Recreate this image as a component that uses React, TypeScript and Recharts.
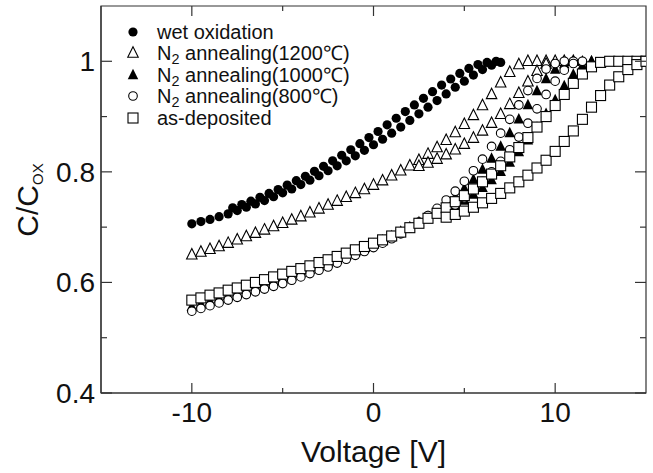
import React from 'react';
import { ScatterChart, Scatter, XAxis, YAxis, Legend, ReferenceArea, Label } from 'recharts';

// ---------- data (voltage [V], C/Cox) ----------
const wetOxFwd: [number, number][] = [
  [-10, 0.706], [-9.5, 0.71], [-9, 0.714], [-8.5, 0.719], [-8, 0.724], [-7.5, 0.73], [-7, 0.736],
  [-6.5, 0.742], [-6, 0.748], [-5.5, 0.755], [-5, 0.762], [-4.5, 0.769], [-4, 0.777], [-3.5, 0.785],
  [-3, 0.793], [-2.5, 0.802], [-2, 0.811], [-1.5, 0.82], [-1, 0.829], [-0.5, 0.839], [0, 0.849],
  [0.5, 0.859], [1, 0.87], [1.5, 0.881], [2, 0.893], [2.5, 0.905], [3, 0.917], [3.5, 0.929],
  [4, 0.941], [4.5, 0.953], [5, 0.964], [5.5, 0.975], [6, 0.985], [6.5, 0.993], [7, 0.998],
];
const wetOxRev: [number, number][] = [
  [-7.75, 0.735], [-7.25, 0.741], [-6.75, 0.747], [-6.25, 0.754], [-5.75, 0.761], [-5.25, 0.768],
  [-4.75, 0.776], [-4.25, 0.784], [-3.75, 0.792], [-3.25, 0.801], [-2.75, 0.81], [-2.25, 0.82],
  [-1.75, 0.83], [-1.25, 0.84], [-0.75, 0.851], [-0.25, 0.862], [0.25, 0.873], [0.75, 0.885],
  [1.25, 0.897], [1.75, 0.909], [2.25, 0.921], [2.75, 0.933], [3.25, 0.945], [3.75, 0.957],
  [4.25, 0.968], [4.75, 0.978], [5.25, 0.987], [5.75, 0.994], [6.25, 0.998], [6.75, 1.0],
];
const n1200Fwd: [number, number][] = [
  [-10, 0.65], [-9.5, 0.655], [-9, 0.66], [-8.5, 0.665], [-8, 0.671], [-7.5, 0.677], [-7, 0.683],
  [-6.5, 0.689], [-6, 0.695], [-5.5, 0.701], [-5, 0.707], [-4.5, 0.713], [-4, 0.719], [-3.5, 0.726],
  [-3, 0.733], [-2.5, 0.74], [-2, 0.747], [-1.5, 0.754], [-1, 0.761], [-0.5, 0.768], [0, 0.776],
  [0.5, 0.784], [1, 0.793], [1.5, 0.802], [2, 0.811], [2.5, 0.821], [3, 0.832], [3.5, 0.844],
  [4, 0.857], [4.5, 0.871], [5, 0.886], [5.5, 0.902], [6, 0.92], [6.5, 0.94], [7, 0.961],
  [7.5, 0.98], [8, 0.994], [8.5, 1.0], [9, 1.0], [9.5, 1.0], [10, 1.0], [10.5, 1.0], [11, 1.0],
];
const n1200Rev: [number, number][] = [
  [2.5, 0.81], [3, 0.816], [3.5, 0.823], [4, 0.831], [4.5, 0.84], [5, 0.85], [5.5, 0.861],
  [6, 0.874], [6.5, 0.888], [7, 0.904], [7.5, 0.922], [8, 0.942], [8.5, 0.963], [9, 0.982],
  [9.5, 0.995],
];
const n1000Fwd: [number, number][] = [
  [-10, 0.556], [-9.5, 0.561], [-9, 0.566], [-8.5, 0.571], [-8, 0.576], [-7.5, 0.581], [-7, 0.586],
  [-6.5, 0.591], [-6, 0.596], [-5.5, 0.601], [-5, 0.606], [-4.5, 0.611], [-4, 0.617], [-3.5, 0.623],
  [-3, 0.629], [-2.5, 0.635], [-2, 0.641], [-1.5, 0.648], [-1, 0.655], [-0.5, 0.662], [0, 0.669],
  [0.5, 0.676], [1, 0.684], [1.5, 0.692], [2, 0.7], [2.5, 0.709], [3, 0.719], [3.5, 0.73],
  [4, 0.742], [4.5, 0.755], [5, 0.77], [5.5, 0.786], [6, 0.804], [6.5, 0.824], [7, 0.846],
  [7.5, 0.87], [8, 0.895], [8.5, 0.921], [9, 0.946], [9.5, 0.968], [10, 0.985], [10.5, 0.995],
  [11, 1.0], [11.5, 1.0], [12, 1.0],
];
const n1000Rev: [number, number][] = [
  [4.5, 0.738], [5, 0.748], [5.5, 0.759], [6, 0.771], [6.5, 0.785], [7, 0.8], [7.5, 0.817],
  [8, 0.836], [8.5, 0.857], [9, 0.88], [9.5, 0.905], [10, 0.93], [10.5, 0.955], [11, 0.976],
  [11.5, 0.992], [12, 1.0],
];
const n800Fwd: [number, number][] = [
  [-10, 0.548], [-9.5, 0.553], [-9, 0.558], [-8.5, 0.563], [-8, 0.568], [-7.5, 0.573], [-7, 0.578],
  [-6.5, 0.583], [-6, 0.588], [-5.5, 0.593], [-5, 0.598], [-4.5, 0.604], [-4, 0.61], [-3.5, 0.616],
  [-3, 0.622], [-2.5, 0.628], [-2, 0.635], [-1.5, 0.642], [-1, 0.649], [-0.5, 0.656], [0, 0.663],
  [0.5, 0.671], [1, 0.679], [1.5, 0.688], [2, 0.698], [2.5, 0.709], [3, 0.721], [3.5, 0.734],
  [4, 0.749], [4.5, 0.765], [5, 0.783], [5.5, 0.802], [6, 0.823], [6.5, 0.846], [7, 0.87],
  [7.5, 0.895], [8, 0.921], [8.5, 0.947], [9, 0.969], [9.5, 0.986], [10, 0.996], [10.5, 1.0],
  [11, 1.0], [11.5, 1.0],
];
const n800Rev: [number, number][] = [
  [4, 0.728], [4.5, 0.74], [5, 0.753], [5.5, 0.767], [6, 0.783], [6.5, 0.8], [7, 0.819],
  [7.5, 0.84], [8, 0.863], [8.5, 0.888], [9, 0.914], [9.5, 0.94], [10, 0.964], [10.5, 0.984],
  [11, 0.996],
];
const asDepFwd: [number, number][] = [
  [-10, 0.568], [-9.5, 0.572], [-9, 0.577], [-8.5, 0.581], [-8, 0.586], [-7.5, 0.59], [-7, 0.595],
  [-6.5, 0.6], [-6, 0.605], [-5.5, 0.61], [-5, 0.615], [-4.5, 0.62], [-4, 0.625], [-3.5, 0.63],
  [-3, 0.636], [-2.5, 0.641], [-2, 0.647], [-1.5, 0.653], [-1, 0.659], [-0.5, 0.665], [0, 0.671],
  [0.5, 0.677], [1, 0.684], [1.5, 0.691], [2, 0.699], [2.5, 0.707], [3, 0.716], [3.5, 0.725],
  [4, 0.735], [4.5, 0.746], [5, 0.757], [5.5, 0.769], [6, 0.782], [6.5, 0.796], [7, 0.811],
  [7.5, 0.827], [8, 0.844], [8.5, 0.862], [9, 0.881], [9.5, 0.9], [10, 0.92], [10.5, 0.94],
  [11, 0.96], [11.5, 0.977], [12, 0.99], [12.5, 0.998], [13, 1.0], [13.5, 1.0], [14, 1.0],
  [14.5, 1.0], [15, 1.0],
];
const asDepRev: [number, number][] = [
  [4, 0.718], [4.5, 0.723], [5, 0.729], [5.5, 0.736], [6, 0.744], [6.5, 0.752], [7, 0.761],
  [7.5, 0.771], [8, 0.782], [8.5, 0.794], [9, 0.807], [9.5, 0.821], [10, 0.837], [10.5, 0.855],
  [11, 0.874], [11.5, 0.895], [12, 0.917], [12.5, 0.938], [13, 0.957], [13.5, 0.972], [14, 0.985],
  [14.5, 0.994], [15, 1.0],
];

const voltageTicks = [-10, -5, 0, 5, 10];
const voltageLabelTicks = [-10, 0, 10];
const capTicks = [0.4, 0.5, 0.6, 0.7, 0.8, 0.9, 1.0];
const capLabelTicks = [0.4, 0.6, 0.8, 1.0];

const toPts = (arr: [number, number][]) => arr.map(([v, c]) => ({ v, c }));

// ---------- styling ----------
const FONT = 'Arial, "Liberation Sans", Helvetica, sans-serif';
const FRAME = '#333';
const PLOT = { left: 101, right: 646, top: 6, bottom: 393 };

const FilledCircle = ({ cx, cy }: any) => <circle cx={cx} cy={cy} r={4.6} fill="#000" />;
const OpenCircle = ({ cx, cy }: any) => (
  <circle cx={cx} cy={cy} r={4.3} fill="#fff" stroke="#000" strokeWidth={1.1} />
);
const triPath = (cx: number, cy: number, s: number) =>
  `M${cx},${cy - s * 0.6} L${cx + s / 2},${cy + s * 0.4} L${cx - s / 2},${cy + s * 0.4} Z`;
const OpenTriangle = ({ cx, cy }: any) => (
  <path d={triPath(cx, cy, 10.5)} fill="#fff" stroke="#000" strokeWidth={1.1} />
);
const FilledTriangle = ({ cx, cy }: any) => <path d={triPath(cx, cy, 10.5)} fill="#000" />;
const OpenSquare = ({ cx, cy }: any) => (
  <rect x={cx - 5} y={cy - 5} width={10} height={10} fill="#fff" stroke="#000" strokeWidth={1.1} />
);

const subStyle = { fontSize: '0.72em', verticalAlign: '-0.3em', lineHeight: 0 } as const;
const legendRows = [
  { key: 'wet', Icon: FilledCircle, text: <>wet oxidation</> },
  { key: '1200', Icon: OpenTriangle, text: <>N<sub style={subStyle}>2</sub> annealing(1200℃)</> },
  { key: '1000', Icon: FilledTriangle, text: <>N<sub style={subStyle}>2</sub> annealing(1000℃)</> },
  { key: '800', Icon: OpenCircle, text: <>N<sub style={subStyle}>2</sub> annealing(800℃)</> },
  { key: 'asdep', Icon: OpenSquare, text: <>as-deposited</> },
];

const LegendBox = () => (
  <div style={{ fontFamily: FONT, fontSize: 20, color: '#111' }}>
    {legendRows.map(({ key, Icon, text }) => (
      <div key={key} style={{ display: 'flex', alignItems: 'center', height: 21.5, whiteSpace: 'nowrap', overflow: 'visible' }}>
        <svg width={16} height={16} style={{ flex: 'none' }}>
          <Icon cx={8} cy={8} />
        </svg>
        <span style={{ marginLeft: 16, lineHeight: '20px' }}>{text}</span>
      </div>
    ))}
  </div>
);

const XTick = (props: any) => {
  const { x, payload } = props;
  const major = voltageLabelTicks.includes(payload.value);
  const len = major ? 10 : 5;
  return (
    <g>
      <line x1={x} x2={x} y1={PLOT.bottom} y2={PLOT.bottom - len} stroke={FRAME} strokeWidth={1.2} />
      <line x1={x} x2={x} y1={PLOT.top} y2={PLOT.top + len} stroke={FRAME} strokeWidth={1.2} />
      {major && (
        <text x={x} y={PLOT.bottom + 29} textAnchor="middle" fontSize={28} fontFamily={FONT} fill="#111">
          {payload.value}
        </text>
      )}
    </g>
  );
};

const YTick = (props: any) => {
  const { y, payload } = props;
  const major = capLabelTicks.some((t) => Math.abs(t - payload.value) < 1e-9);
  const len = major ? 11 : 6;
  return (
    <g>
      <line x1={PLOT.left} x2={PLOT.left + len} y1={y} y2={y} stroke={FRAME} strokeWidth={1.2} />
      <line x1={PLOT.right} x2={PLOT.right - len} y1={y} y2={y} stroke={FRAME} strokeWidth={1.2} />
      {major && (
        <text x={PLOT.left - 6} y={y + 10} textAnchor="end" fontSize={28} fontFamily={FONT} fill="#111">
          {String(payload.value)}
        </text>
      )}
    </g>
  );
};

const XTitle = (props: any) => {
  const vb = props.viewBox || { x: PLOT.left, width: PLOT.right - PLOT.left };
  return (
    <text x={vb.x + vb.width / 2} y={462} textAnchor="middle" fontSize={30} fontFamily={FONT} fill="#111">
      Voltage [V]
    </text>
  );
};

const YTitle = () => (
  <text
    x={38}
    y={200}
    transform="rotate(-90, 38, 200)"
    textAnchor="middle"
    fontSize={30}
    fontFamily={FONT}
    fill="#111"
  >
    C/C
    <tspan fontSize={15} dy={5}>OX</tspan>
  </text>
);

const series = [
  { key: 'wetF', data: wetOxFwd, shape: FilledCircle },
  { key: 'wetR', data: wetOxRev, shape: FilledCircle },
  { key: 'n1200F', data: n1200Fwd, shape: OpenTriangle },
  { key: 'n1200R', data: n1200Rev, shape: OpenTriangle },
  { key: 'n1000F', data: n1000Fwd, shape: FilledTriangle },
  { key: 'n1000R', data: n1000Rev, shape: FilledTriangle },
  { key: 'n800F', data: n800Fwd, shape: OpenCircle },
  { key: 'n800R', data: n800Rev, shape: OpenCircle },
  { key: 'asDepF', data: asDepFwd, shape: OpenSquare },
  { key: 'asDepR', data: asDepRev, shape: OpenSquare },
];

export default function App() {
  return (
    <div style={{ position: 'absolute', left: 0, top: 0, width: 653, height: 473, background: '#fff' }}>
      <ScatterChart width={653} height={473} margin={{ top: PLOT.top, right: 653 - PLOT.right, bottom: 0, left: 0 }}>
        <XAxis
          type="number"
          dataKey="v"
          domain={[-15, 15]}
          ticks={voltageTicks}
          interval={0}
          height={473 - PLOT.bottom}
          allowDataOverflow
          axisLine={{ stroke: FRAME, strokeWidth: 1.2 }}
          tickLine={false}
          tick={XTick}
        >
          <Label content={XTitle} />
        </XAxis>
        <YAxis
          type="number"
          dataKey="c"
          domain={[0.4, 1.1]}
          ticks={capTicks}
          interval={0}
          width={PLOT.left}
          allowDataOverflow
          axisLine={{ stroke: FRAME, strokeWidth: 1.2 }}
          tickLine={false}
          tick={YTick}
        >
          <Label content={YTitle} />
        </YAxis>
        <ReferenceArea x1={-15} x2={15} y1={0.4} y2={1.1} fill="none" stroke={FRAME} strokeWidth={1.2} />
        {series.map((s) => (
          <Scatter
            key={s.key}
            data={toPts(s.data)}
            shape={(p: any) => <s.shape cx={p.cx} cy={p.cy} />}
            isAnimationActive={false}
          />
        ))}
        <Legend
          layout="vertical"
          align="center"
          verticalAlign="middle"
          wrapperStyle={{ left: 125, top: 21, width: 280, height: 110 }}
          content={LegendBox}
        />
      </ScatterChart>
    </div>
  );
}
